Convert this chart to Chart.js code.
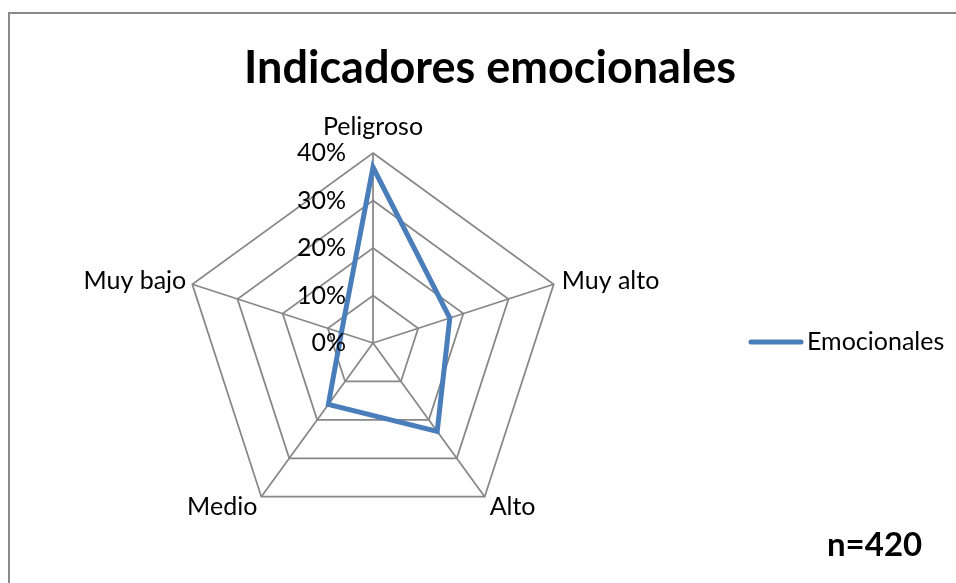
<!DOCTYPE html>
<html>
<head>
<meta charset="utf-8">
<script src="https://cdn.jsdelivr.net/npm/chart.js@4.4.0/dist/chart.umd.min.js"></script>
<style>
  html, body { margin: 0; padding: 0; background: #fff; overflow: hidden; }
  #wrap  { position: relative; width: 956px; height: 583px; overflow: hidden; }
  #frame { position: absolute; left: 8px; top: 12px; width: 2000px; height: 2000px;
           border-left: 2px solid #8a8a8a; border-top: 2px solid #8a8a8a; }
  canvas { position: absolute; left: 0; top: 0; }
</style>
</head>
<body>
<div id="wrap">
  <div id="frame"></div>
  <canvas id="chart" width="956" height="583"></canvas>
</div>
<script>
const CATEGORIES = ['Peligroso', 'Muy alto', 'Alto', 'Medio', 'Muy bajo'];
const EMOCIONALES = [37, 17, 23, 16, 7];
const TICK_VALUES = [0, 10, 20, 30, 40];
const TITLE = 'Indicadores emocionales';
const SERIES_NAME = 'Emocionales';
const NOTE = 'n=420';

const FONT = "Lato, 'Open Sans', sans-serif";
const LINE_COLOR = '#4a7ebb';
const GRID = '#878787';

// where each category label sits relative to its outer vertex
const LABEL_POS = [
  { dx: 0,  dy: -18, align: 'center', base: 'alphabetic' },
  { dx: 8,  dy: -3,  align: 'left',   base: 'middle' },
  { dx: 5,  dy: 10,  align: 'left',   base: 'middle' },
  { dx: -4, dy: 10,  align: 'right',  base: 'middle' },
  { dx: -6, dy: -3,  align: 'right',  base: 'middle' },
];

const decorations = {
  id: 'decorations',
  afterDraw(chart) {
    const ctx = chart.ctx;
    const r = chart.scales.r;
    ctx.save();
    ctx.fillStyle = '#000';

    // title
    ctx.font = `bold 45px ${FONT}`;
    ctx.textAlign = 'center';
    ctx.textBaseline = 'middle';
    ctx.fillText(TITLE, 490, 68);

    // category labels
    ctx.font = `25px ${FONT}`;
    CATEGORIES.forEach((c, i) => {
      const p = r.getPointPosition(i, r.drawingArea);
      const o = LABEL_POS[i];
      ctx.textAlign = o.align;
      ctx.textBaseline = o.base;
      ctx.fillText(c, p.x + o.dx, p.y + o.dy);
    });

    // tick labels, right aligned left of the vertical axis
    ctx.textAlign = 'right';
    ctx.textBaseline = 'middle';
    TICK_VALUES.forEach(v => {
      const y = r.yCenter - r.getDistanceFromCenterForValue(v);
      ctx.fillText(v + '%', r.xCenter - 27, y);
    });

    // legend
    ctx.strokeStyle = LINE_COLOR;
    ctx.lineWidth = 5;
    ctx.lineCap = 'round';
    ctx.beginPath();
    ctx.moveTo(751, 342);
    ctx.lineTo(801, 342);
    ctx.stroke();
    ctx.textAlign = 'left';
    ctx.fillText(SERIES_NAME, 807, 342);

    // sample size
    ctx.font = `bold 33px ${FONT}`;
    ctx.fillText(NOTE, 827, 545);
    ctx.restore();
  },
};

new Chart(document.getElementById('chart'), {
  type: 'radar',
  data: {
    labels: CATEGORIES,
    datasets: [{
      label: SERIES_NAME,
      data: EMOCIONALES,
      borderColor: LINE_COLOR,
      borderWidth: 5,
      pointRadius: 0,
      fill: false,
      tension: 0,
    }],
  },
  options: {
    responsive: false,
    animation: false,
    layout: { padding: { left: 183, top: 153, right: 393, bottom: 50 } },
    plugins: { legend: { display: false }, title: { display: false }, tooltip: { enabled: false } },
    scales: {
      r: {
        min: 0, max: 40,
        ticks: { display: false, stepSize: 10 },
        pointLabels: { display: false },
        grid: { color: GRID, lineWidth: 1.75 },
        angleLines: { color: GRID, lineWidth: 1.75 },
      },
    },
  },
  plugins: [decorations],
});
</script>
</body>
</html>
